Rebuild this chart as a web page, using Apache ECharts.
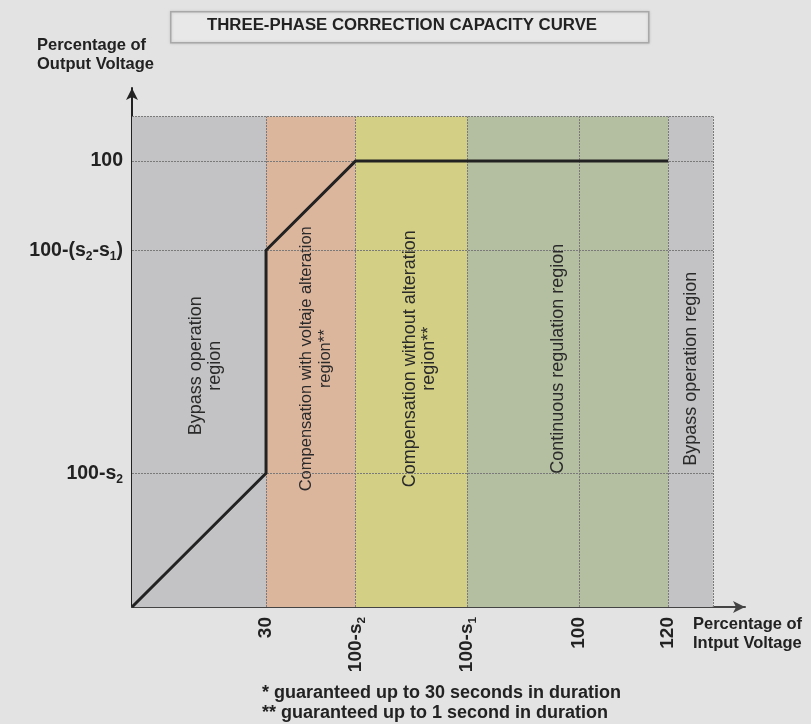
<!DOCTYPE html>
<html>
<head>
<meta charset="utf-8">
<style>
  html, body { margin: 0; padding: 0; background: #e3e3e3; }
  #main { width: 811px; height: 724px; }
</style>
<script src="https://cdn.jsdelivr.net/npm/echarts@6/dist/echarts.min.js"></script>
</head>
<body>
<div id="main"></div>
<script>
// curve points (input % -> output %)
const curveX = [0, 30, 30, 50, 120];
const curveY = [0, 30, 80, 100, 100];

// x ticks, drawn as 30 / 100-s2 / 100-s1 / 100 / 120
const xTicks = [30, 50, 75, 100, 120];
const xTickLabels = ['{b|30}', '{b|100-s}{s|2}', '{b|100-s}{s|1}', '{b|100}', '{b|120}'];

// y ticks
const yTicks = [30, 80, 100];
const yTickLabels = ['{b|100-s}{s|2}', '{b|100-(s}{s|2}{b|-s}{s|1}{b|)}', '{b|100}'];

// regions along the input axis
const regionStart = [0, 30, 50, 75, 120];
const regionEnd = [30, 50, 75, 120, 130];
const regionNames = [
  'Bypass operation\nregion',
  'Compensation with voltaje alteration\nregion**',
  'Compensation without alteration\nregion**',
  'Continuous regulation region',
  'Bypass operation region'
];
const regionColors = ['#c3c3c5', '#dcb59d', '#d3cf85', '#b4bfa1', '#c3c3c5'];
const regionFont = [18, 16.5, 18, 18, 18];
// screen-space nudge of each region label [dx, dy]
const regionLabelShift = [[7, 4], [5, -3], [8, -3], [-10, -3], [1, 7]];

// plot extents (dotted frame)
const xEnd = 130;
const yEnd = 110;

const footnotes = [
  '* guaranteed up to 30 seconds in duration',
  '** guaranteed up to 1 second in duration'
];

const FONT = '"Liberation Sans", Arial, sans-serif';

function tickFmt(ticks, labels) {
  return function (v) {
    const i = ticks.indexOf(v);
    return i < 0 ? '' : labels[i];
  };
}

function richTick(size) {
  return {
    b: { fontSize: size, fontWeight: 'bold', color: '#222', fontFamily: FONT, lineHeight: 24 },
    s: { fontSize: size * 0.62, fontWeight: 'bold', color: '#222', fontFamily: FONT, lineHeight: 24, verticalAlign: 'bottom', padding: [10, 0, 0, 0] }
  };
}

// grid lines
const gridLines = [];
xTicks.concat([xEnd]).forEach(x => {
  gridLines.push([{ coord: [x, 0] }, { coord: [x, yEnd] }]);
});
yTicks.concat([yEnd]).forEach(y => {
  gridLines.push([{ coord: [0, y] }, { coord: [xEnd, y] }]);
});

// label offset lives in the rotated frame, so swap to get a screen nudge
const areas = regionStart.map((s, i) => [
  {
    xAxis: s, yAxis: 0,
    itemStyle: { color: regionColors[i] },
    label: {
      show: true, position: 'inside', rotate: 90,
      offset: [-regionLabelShift[i][1], regionLabelShift[i][0]],
      formatter: regionNames[i],
      fontSize: regionFont[i], color: '#2a2a2a', fontFamily: FONT, lineHeight: 19, align: 'center'
    }
  },
  { xAxis: regionEnd[i], yAxis: yEnd }
]);

const chart = echarts.init(document.getElementById('main'));
chart.setOption({
  backgroundColor: '#e3e3e3',
  animation: false,
  grid: { left: 132, top: 88, right: 66, bottom: 117 },
  xAxis: {
    type: 'value', min: 0, max: 137.2,
    splitLine: { show: false },
    axisTick: { show: false },
    axisLine: { lineStyle: { color: '#444', width: 2 }, symbol: ['none', 'arrow'], symbolSize: [9, 12] },
    axisLabel: {
      customValues: xTicks, rotate: 90, margin: 10,
      formatter: tickFmt(xTicks, xTickLabels), rich: richTick(19)
    }
  },
  yAxis: {
    type: 'value', min: 0, max: 116.4,
    splitLine: { show: false },
    axisTick: { show: false },
    axisLine: { show: true, lineStyle: { color: '#222', width: 2 }, symbol: ['none', 'arrow'], symbolSize: [9, 12] },
    axisLabel: {
      customValues: yTicks, margin: 9,
      formatter: tickFmt(yTicks, yTickLabels), rich: richTick(19.5)
    }
  },
  series: [{
    type: 'line',
    data: curveX.map((x, i) => [x, curveY[i]]),
    showSymbol: false,
    lineStyle: { color: '#222', width: 3 },
    z: 5,
    markArea: { silent: true, data: areas },
    markLine: {
      silent: true, symbol: 'none',
      label: { show: false },
      lineStyle: { color: '#7a7a7a', type: [2, 1], width: 1 },
      data: gridLines
    }
  }],
  graphic: [
    {
      type: 'rect', left: 170, top: 11,
      shape: { width: 478, height: 31 },
      style: { fill: '#e8e8e8', stroke: '#a8a8a8', lineWidth: 1.5, shadowBlur: 3, shadowColor: 'rgba(0,0,0,0.15)' }
    },
    {
      type: 'text', left: 207, top: 17,
      style: { text: 'THREE-PHASE CORRECTION CAPACITY CURVE', fill: '#222', font: 'bold 16.8px ' + FONT }
    },
    {
      type: 'text', left: 37, top: 36,
      style: { text: 'Percentage of\nOutput Voltage', fill: '#222', font: 'bold 16.5px ' + FONT, lineHeight: 19 }
    },
    {
      type: 'text', left: 693, top: 615,
      style: { text: 'Percentage of\nIntput Voltage', fill: '#222', font: 'bold 16.5px ' + FONT, lineHeight: 19 }
    },
    {
      type: 'text', left: 262, top: 683,
      style: { text: footnotes.join('\n'), fill: '#222', font: 'bold 18px ' + FONT, lineHeight: 20 }
    }
  ]
});
</script>
</body>
</html>
